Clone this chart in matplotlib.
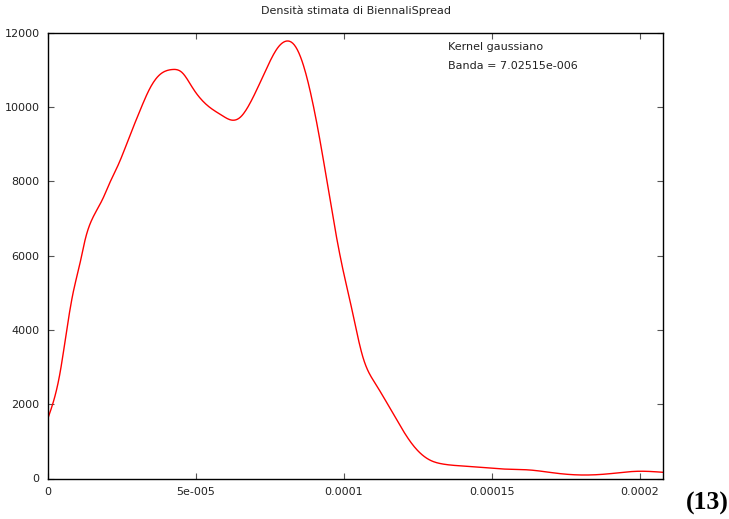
import matplotlib
matplotlib.use("Agg")
import matplotlib.pyplot as plt
import numpy as np

# stima kernel della densità
x_vals = [0.0, 4.05e-6, 6.32e-6, 8.45e-6, 1.081e-5, 1.25e-5, 1.52e-5, 1.858e-5,
          2.094e-5, 2.365e-5, 2.77e-5, 3.11e-5, 3.45e-5, 3.78e-5, 4.18e-5,
          4.53e-5, 4.9e-5, 5.47e-5, 5.88e-5, 6.15e-5, 6.49e-5, 6.82e-5, 7.4e-5,
          7.77e-5, 8.04e-5, 8.34e-5, 8.61e-5, 8.95e-5, 9.29e-5, 9.63e-5,
          9.97e-5, 1.02e-4, 1.044e-4, 1.064e-4, 1.105e-4, 1.165e-4, 1.233e-4,
          1.29e-4, 1.334e-4, 1.402e-4, 1.493e-4, 1.537e-4, 1.628e-4, 1.72e-4,
          1.807e-4, 1.898e-4, 1.99e-4, 2.078e-4]
density = [1628, 2838, 3995, 4990, 5798, 6417, 7035, 7546,
           7977, 8434, 9241, 9914, 10520, 10880, 11015,
           10935, 10505, 9994, 9779, 9664, 9726, 10100, 11070,
           11610, 11780, 11660, 11180, 10100, 8650, 7035,
           5610, 4802, 3915, 3269, 2570, 1762, 901,
           498, 390, 336, 282, 256, 229, 140,
           94, 129, 194, 167]

xticks = [0, 5e-5, 1e-4, 1.5e-4, 2e-4]
xtick_labels = ["0", "5e-005", "0.0001", "0.00015", "0.0002"]
yticks = [0, 2000, 4000, 6000, 8000, 10000, 12000]


def spline(x, y, xn):
    # spline cubica naturale
    n = len(x)
    h = np.diff(x)
    A = np.zeros((n, n))
    r = np.zeros(n)
    A[0, 0] = A[-1, -1] = 1
    for i in range(1, n - 1):
        A[i, i - 1] = h[i - 1]
        A[i, i] = 2 * (h[i - 1] + h[i])
        A[i, i + 1] = h[i]
        r[i] = 6 * ((y[i + 1] - y[i]) / h[i] - (y[i] - y[i - 1]) / h[i - 1])
    M = np.linalg.solve(A, r)
    k = np.clip(np.searchsorted(x, xn) - 1, 0, n - 2)
    a = x[k + 1] - xn
    b = xn - x[k]
    hk = h[k]
    return (M[k] * a**3 / (6 * hk) + M[k + 1] * b**3 / (6 * hk)
            + (y[k] / hk - M[k] * hk / 6) * a + (y[k + 1] / hk - M[k + 1] * hk / 6) * b)


fig = plt.figure(figsize=(7.29, 5.19), dpi=100)
ax = fig.add_axes([48 / 729, 40.5 / 519, 615 / 729, 445.5 / 519])

xs = np.array(x_vals)
ys = np.array(density, dtype=float)
xf = np.linspace(xs[0], xs[-1], 800)
ax.plot(xf, spline(xs, ys, xf), color="#ff0000", lw=1.0)

ax.set_xlim(0, 2.078e-4)
ax.set_ylim(0, 12000)
ax.set_xticks(xticks)
ax.set_xticklabels(xtick_labels)
ax.set_yticks(yticks)
ax.tick_params(direction="in", length=4, width=0.8, color="#555555",
               labelsize=8, labelcolor="#222222", top=True, right=True, pad=6)
for s in ax.spines.values():
    s.set_linewidth(1.0)
    s.set_color("black")

ax.set_title("Densità stimata di BiennaliSpread", fontsize=8, color="#222222", pad=14)
ax.text(448 / 729, 472 / 519, "Kernel gaussiano", transform=fig.transFigure,
        fontsize=8, color="#222222", va="center")
ax.text(448 / 729, 453 / 519, "Banda = 7.02515e-006", transform=fig.transFigure,
        fontsize=8, color="#222222", va="center")

fig.text(707 / 729, 16 / 519, "(13)", family="Liberation Serif", weight="bold",
         fontsize=18.5, ha="center", va="center")

fig.savefig("out.png", dpi=100, facecolor="white")
